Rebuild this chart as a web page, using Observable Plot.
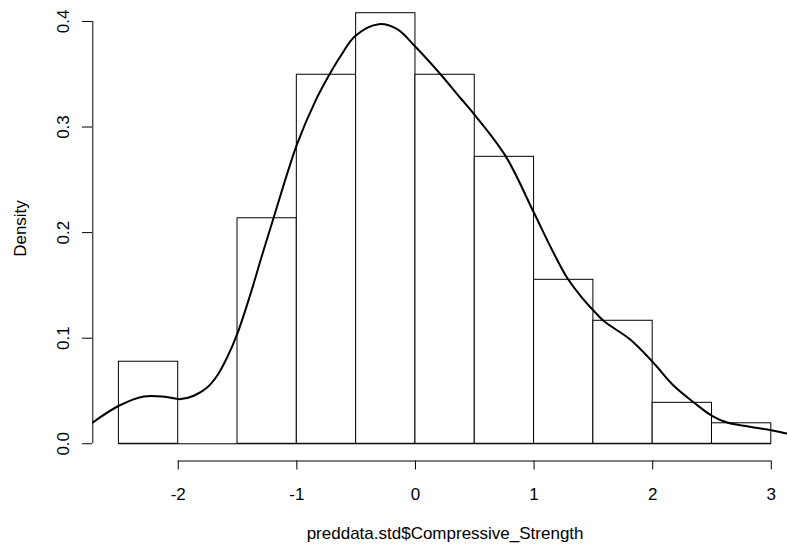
<!DOCTYPE html>
<html><head><meta charset="utf-8">
<script src="https://cdn.jsdelivr.net/npm/d3@7"></script>
<script src="https://cdn.jsdelivr.net/npm/@observablehq/plot@0.6"></script>
<style>html,body{margin:0;padding:0;background:#fff;overflow:hidden}</style>
</head><body><div id="chart"></div>
<script>
// Histogram (density scale) of preddata.std$Compressive_Strength
const breaks = [-2.5, -2, -1.5, -1, -0.5, 0, 0.5, 1, 1.5, 2, 2.5, 3];
const densities = [0.0777, 0, 0.2136, 0.3495, 0.4078, 0.3495, 0.2718, 0.1553, 0.1165, 0.0388, 0.0194];
// Kernel density curve
const curveX = [-2.72, -2.50, -2.29, -2.11, -1.98, -1.869, -1.756, -1.672, -1.588, -1.503, -1.40, -1.30, -1.195, -0.998, -0.843, -0.731, -0.632, -0.506, -0.309, -0.154, 0.0, 0.211, 0.379, 0.492, 0.759, 0.998, 1.15, 1.28, 1.40, 1.503, 1.588, 1.813, 2.004, 2.178, 2.347, 2.50, 2.628, 2.853, 3.0, 3.13, 3.2];
const curveY = [0.0202, 0.0360, 0.0448, 0.0445, 0.0423, 0.0455, 0.0533, 0.0644, 0.0817, 0.1039, 0.1385, 0.1760, 0.2143, 0.2838, 0.3248, 0.3485, 0.367, 0.3864, 0.3974, 0.3927, 0.3760, 0.350, 0.3275, 0.3125, 0.2727, 0.219, 0.184, 0.157, 0.139, 0.126, 0.1162, 0.0985, 0.077, 0.0549, 0.0391, 0.0265, 0.0202, 0.0155, 0.0129, 0.0098, 0.0085];
const xTicks = [-2, -1, 0, 1, 2, 3];
const yTicks = [0, 0.1, 0.2, 0.3, 0.4];
const xLabel = "preddata.std$Compressive_Strength";
const yLabel = "Density";

const bins = densities.map((d, i) => ({x1: breaks[i], x2: breaks[i + 1], d}));
const curve = curveX.map((x, i) => ({x, y: curveY[i]}));
const ext = (lo, hi) => [lo - 0.04 * (hi - lo), hi + 0.04 * (hi - lo)];
const usrX = ext(breaks[0], breaks[breaks.length - 1]);
const usrY = ext(0, d3.max(densities));

const plot = Plot.plot({
  width: 787, height: 547,
  marginLeft: 92, marginRight: 0, marginTop: 0, marginBottom: 86.5,
  style: {fontFamily: "'Liberation Sans', Arial, sans-serif", fontSize: "17px", color: "#000", background: "#fff"},
  x: {domain: usrX, range: [92.3, 796.9]},
  y: {domain: usrY, range: [460.5, -4.5]},
  marks: [
    Plot.rect(bins, {x1: "x1", x2: "x2", y1: 0, y2: "d", fill: "white", stroke: "black", strokeWidth: 1}),
    Plot.ruleY([0], {x1: breaks[0], x2: breaks[breaks.length - 1], stroke: "black"}),
    Plot.line(curve, {x: "x", y: "y", stroke: "black", strokeWidth: 2, curve: "catmull-rom", clip: true}),
    Plot.ruleY([usrY[0]], {x1: xTicks[0], x2: xTicks[xTicks.length - 1], stroke: "black"}),
    Plot.ruleX([usrX[0]], {y1: yTicks[0], y2: yTicks[yTicks.length - 1], stroke: "black"}),
    Plot.axisX({ticks: xTicks, tickSize: 9, tickPadding: 18, fontSize: 17, label: null, tickFormat: d => String(d), stroke: "black", fill: "black"}),
    Plot.axisY({ticks: yTicks, tickSize: 10, tickPadding: 14, tickRotate: -90, fontSize: 17, label: null, tickFormat: d3.format(".1f"), stroke: "black", fill: "black"}),
    Plot.text([xLabel], {x: d3.mean(usrX), y: usrY[0], text: d => d, dy: 73, fontSize: 17, fill: "black"}),
    Plot.text([yLabel], {x: usrX[0], y: d3.mean(usrY), text: d => d, rotate: -90, dx: -72, fontSize: 17, fill: "black"})
  ]
});
document.getElementById("chart").appendChild(plot);
</script>
</body></html>
